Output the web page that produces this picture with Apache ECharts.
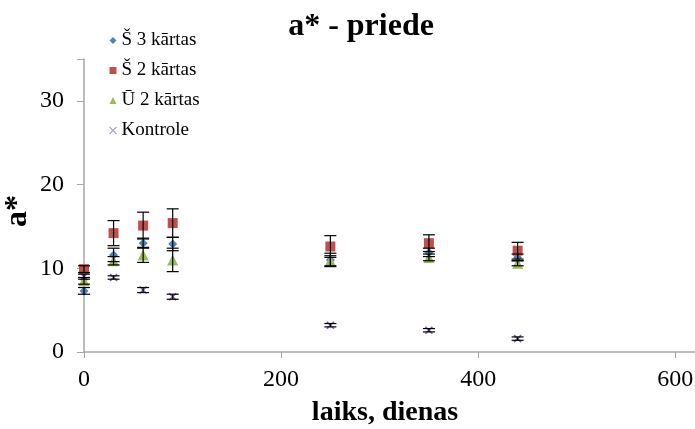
<!DOCTYPE html>
<html><head><meta charset="utf-8">
<script src="https://cdn.jsdelivr.net/npm/echarts@6/dist/echarts.min.js"></script>
<style>html,body{margin:0;padding:0;background:#fff}#c{width:695px;height:429px}</style>
</head><body><div id="c"></div>
<script>
var days = [0, 30, 60, 90, 250, 350, 440];
var seriesNames = ['Š 3 kārtas', 'Š 2 kārtas', 'Ū 2 kārtas', 'Kontrole'];
var s3 = [7.3, 11.6, 13.0, 12.9, 11.0, 11.9, 11.3];
var s3err = [0.4, 0.8, 0.6, 0.8, 0.8, 0.5, 0.4];
var s2 = [9.9, 14.2, 15.1, 15.4, 12.6, 13.0, 12.1];
var s2err = [0.4, 1.5, 1.6, 1.7, 1.3, 1.0, 1.0];
var u2 = [8.5, 10.9, 11.6, 11.0, 10.9, 11.3, 10.6];
var u2err = [0.4, 0.5, 0.9, 1.4, 0.6, 0.4, 0.3];
var ko = [9.0, 8.9, 7.4, 6.6, 3.2, 2.6, 1.6];
var koerr = [0.3, 0.2, 0.3, 0.3, 0.2, 0.2, 0.2];
var xTicks = [0, 200, 400, 600];
var yTicks = [0, 10, 20, 30];
var titleText = 'a* - priede';
var xName = 'laiks, dienas';
var yName = 'a*';

var colors = ['#4F81BD', '#C0504D', '#9BBB59', '#8064A2'];
var vals = [s3, s2, u2, ko];
var errs = [s3err, s2err, u2err, koerr];
var xPath = 'path://M0,0L10,10M10,0L0,10';
var symbols = ['diamond', 'rect', 'triangle', xPath];
var sizes = [9, 10, 11, 7];
var font = '"Liberation Serif", "Times New Roman", serif';

function pairs(v){ return days.map(function(d,i){ return [d, v[i]]; }); }
function errData(v,e){ return days.map(function(d,i){ return [d, v[i]-e[i], v[i]+e[i]]; }); }

var series = [];
for (var k = 0; k < 4; k++) {
  series.push({
    name: seriesNames[k], type: 'scatter', data: pairs(vals[k]),
    symbol: symbols[k], symbolSize: sizes[k], z: 3,
    itemStyle: k === 3 ? {color: 'none', borderColor: colors[k], borderWidth: 1.6, opacity: 1} : {color: colors[k], opacity: 1}
  });
}
for (var k2 = 0; k2 < 4; k2++) {
  series.push({
    type: 'custom', data: errData(vals[k2], errs[k2]), z: 4, silent: true,
    renderItem: function(params, api){
      var x = api.coord([api.value(0), api.value(1)])[0];
      var lo = api.coord([api.value(0), api.value(1)])[1];
      var hi = api.coord([api.value(0), api.value(2)])[1];
      var w = 6;
      var st = {stroke: '#000', lineWidth: 1.2};
      return {type: 'group', children: [
        {type: 'line', shape: {x1: x, y1: lo, x2: x, y2: hi}, style: st},
        {type: 'line', shape: {x1: x-w, y1: lo, x2: x+w, y2: lo}, style: st},
        {type: 'line', shape: {x1: x-w, y1: hi, x2: x+w, y2: hi}, style: st}
      ]};
    }
  });
}

var legendText = {fontFamily: font, fontSize: 19, color: '#000'};
var chart = echarts.init(document.getElementById('c'));
chart.setOption({
  animation: false,
  title: {text: titleText, left: 356, top: 6, textAlign: 'center',
    textStyle: {fontFamily: font, fontWeight: 'bold', fontSize: 32, color: '#000'}},
  legend: {
    orient: 'vertical', left: 102, top: 26, itemGap: 11, itemWidth: 7, itemHeight: 7,
    data: seriesNames.map(function(n,i){ return {name: n, icon: i===3 ? xPath : (i===0?'diamond':(i===1?'rect':'triangle')),
      itemStyle: i===3 ? {color:'none', borderColor:'#B3A2C7', borderWidth:1.2} : {color: colors[i]},
      textStyle: legendText}; }),
    textStyle: legendText
  },
  grid: {left: 84, right: 0, top: 59, bottom: 77, outerBoundsMode: 'none', containLabel: false},
  xAxis: {
    type: 'value', min: 0, max: 620, interval: 200,
    axisLine: {lineStyle: {color: '#A6A6A6', width: 1.5}},
    axisTick: {length: 6, lineStyle: {color: '#A6A6A6'}},
    axisLabel: {fontFamily: font, fontSize: 24, color: '#000', margin: 16,
      formatter: function(v){ return xTicks.indexOf(v) >= 0 ? String(v) : ''; }},
    splitLine: {show: false}
  },
  yAxis: {
    type: 'value', min: 0, max: 35, interval: 10,
    axisLine: {show: true, lineStyle: {color: '#A6A6A6', width: 1.5}},
    axisTick: {show: true, length: 7, lineStyle: {color: '#A6A6A6'}},
    axisLabel: {fontFamily: font, fontSize: 24, color: '#000', margin: 20,
      formatter: function(v){ return yTicks.indexOf(v) >= 0 ? String(v) : ''; }},
    splitLine: {show: false}
  },
  graphic: [
    {type: 'text', x: 385, y: 413, style: {text: xName, fontFamily: font, fontWeight: 'bold', fontSize: 28, fill: '#000', textAlign: 'center', textVerticalAlign: 'middle'}},
    {type: 'text', x: 18, y: 211, rotation: Math.PI/2, style: {text: yName, fontFamily: font, fontWeight: 'bold', fontSize: 32, fill: '#000', textAlign: 'center', textVerticalAlign: 'middle'}}
  ],
  series: series
});
</script></body></html>
